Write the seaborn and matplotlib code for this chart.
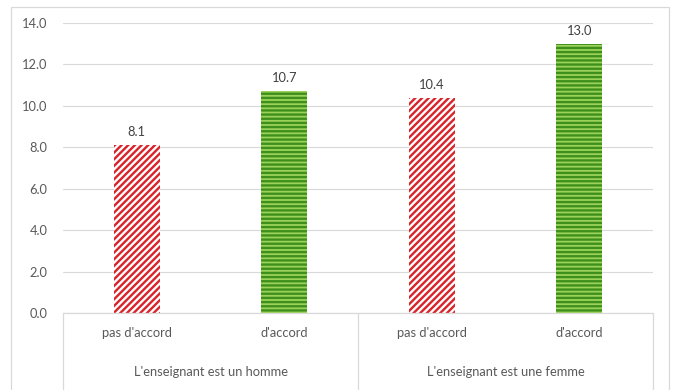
import numpy as np
import pandas as pd
import matplotlib
matplotlib.use("Agg")
import matplotlib.pyplot as plt
from matplotlib.patches import Rectangle
import seaborn as sns

# données
groupes = ["L'enseignant est un homme", "L'enseignant est une femme"]
reponses = ["pas d'accord", "d'accord"]
valeurs = [8.1, 10.7, 10.4, 13.0]

df = pd.DataFrame({
    "cle": [f"{g}|{r}" for g in groupes for r in reponses],
    "reponse": [r for g in groupes for r in reponses],
    "valeur": valeurs,
})

sns.set_style("white")
plt.rcParams["font.family"] = ["Lato", "DejaVu Sans"]
plt.rcParams["hatch.linewidth"] = 1.7

fig = plt.figure(figsize=(6.73, 3.90), dpi=100)
ax = fig.add_axes([63 / 673, 77 / 390, 590 / 673, 290 / 390])

sns.barplot(data=df, x="cle", y="valeur", width=0.31, ax=ax,
            color="white", saturation=1)

styles = {"pas d'accord": ("white", "#d9232a", "/////"),
          "d'accord": ("#9bd35a", "#3f8f1c", "----")}
for patch, rep in zip(ax.patches, df["reponse"]):
    fc, hc, h = styles[rep]
    patch.set_facecolor(fc)
    patch.set_edgecolor(hc)
    patch.set_hatch(h)
    patch.set_linewidth(0)

fs = 9.3
# étiquettes de valeur
for patch, v in zip(ax.patches, df["valeur"]):
    ax.annotate(f"{v:.1f}", (patch.get_x() + patch.get_width() / 2, v),
                xytext=(0, 5), textcoords="offset points", ha="center",
                va="bottom", fontsize=fs, color="#404040")

ax.set_ylim(0, 14)
ax.set_yticks(np.arange(0, 15, 2))
ax.set_yticklabels([f"{t:.1f}" for t in np.arange(0, 15, 2)])
ax.set_xlim(-0.5, 3.5)
ax.grid(axis="y", color="#d9d9d9", linewidth=0.8)
ax.set_axisbelow(True)
for s in ax.spines.values():
    s.set_visible(False)
ax.tick_params(axis="y", length=0, pad=11, labelsize=fs, labelcolor="#595959")
ax.set_xticks([])
ax.set_xlabel("")
ax.set_ylabel("")

# axe des catégories à deux niveaux
tr = ax.get_xaxis_transform()
ax.plot([-0.5, 3.5], [0, 0], color="#d9d9d9", lw=0.9, transform=tr, clip_on=False)
for xv in [-0.5, 1.5, 3.5]:
    ax.plot([xv, xv], [0, -0.3], color="#d9d9d9", lw=0.9, transform=tr, clip_on=False)
for i, rep in enumerate(df["reponse"]):
    ax.text(i, -0.07, rep, transform=tr, ha="center", va="center",
            fontsize=fs, color="#595959")
for j, g in enumerate(groupes):
    ax.text(2 * j + 0.5, -0.203, g, transform=tr, ha="center", va="center",
            fontsize=fs, color="#595959")

# cadre du graphique
fig.patches.append(Rectangle((11 / 673, -0.02), 658 / 673, 1 - 7 / 390 + 0.02,
                             transform=fig.transFigure, fill=False,
                             edgecolor="#d9d9d9", linewidth=0.9))

fig.savefig("out.png", dpi=100, facecolor="white")
